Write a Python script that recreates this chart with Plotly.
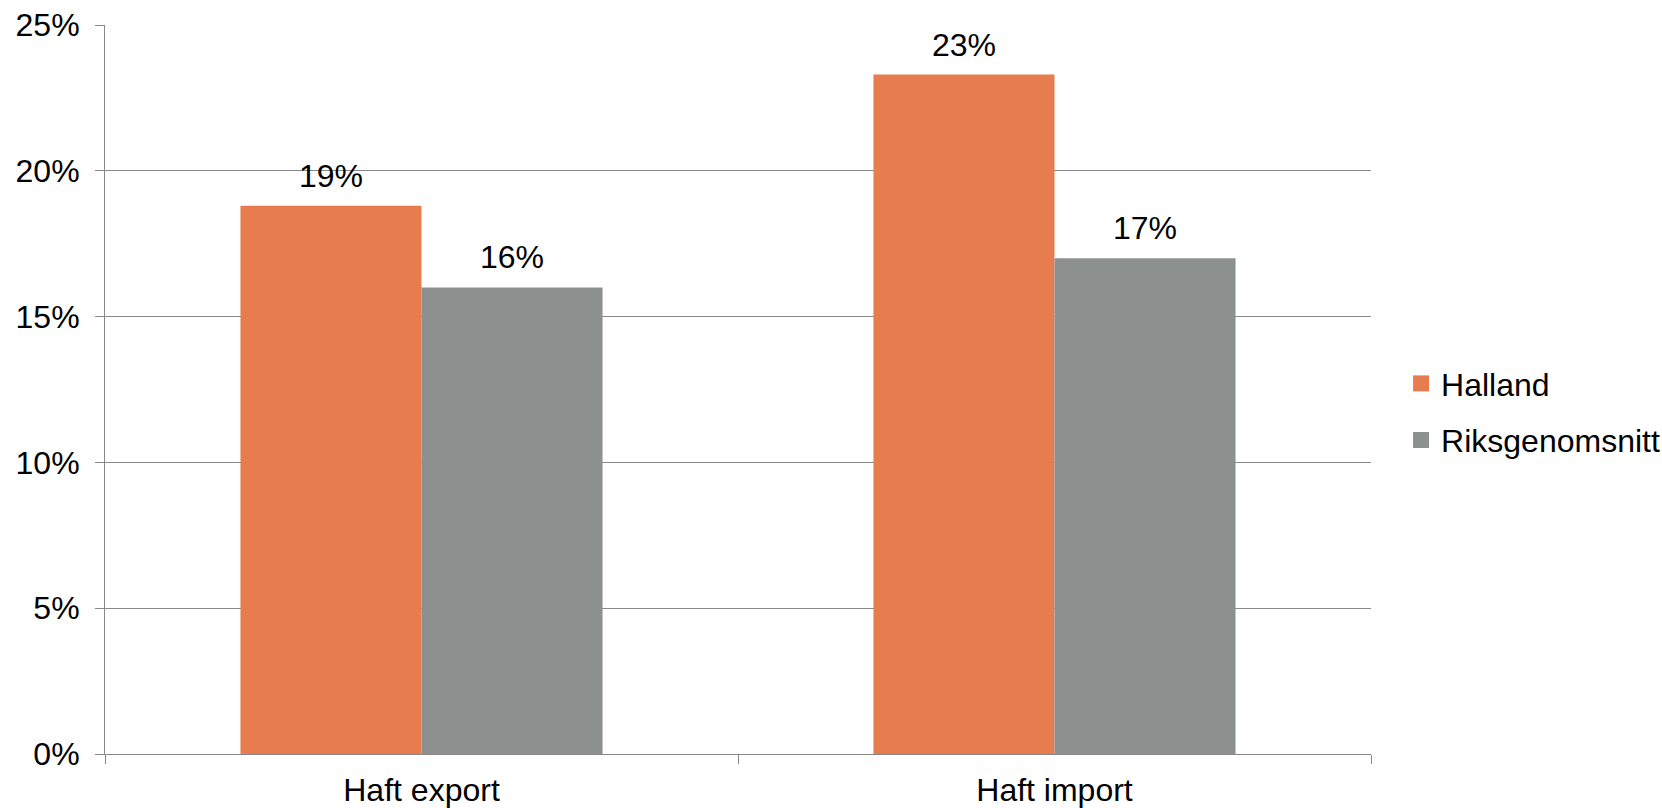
import plotly.graph_objects as go

categories = ["Haft export", "Haft import"]
series_names = ["Halland", "Riksgenomsnitt"]
halland = [0.188, 0.233]
riks = [0.160, 0.170]
series_values = [halland, riks]
colors = ["#E77C4F", "#8C918F"]

W, H = 1662, 808
L, R, T, B = 105, 291, 25, 54
BARGAP = 0.428
FONT = "Liberation Sans, Arial, sans-serif"
FS = 32
GRID = "#888888"

fig = go.Figure()
for name, vals, col in zip(series_names, series_values, colors):
    fig.add_trace(go.Bar(
        x=categories, y=vals, name=name, marker_color=col,
        marker_line_width=0, showlegend=False, legendgroup=name,
    ))
    fig.add_trace(go.Scatter(
        x=[None], y=[None], mode="markers", name=name, legendgroup=name,
        marker=dict(symbol="square", size=16, color=col),
    ))

plot_w = W - L - R
cat_px = plot_w / len(categories)
bar_px = cat_px * (1 - BARGAP) / len(series_names)
annotations = []
for si, vals in enumerate(series_values):
    off = (si - (len(series_names) - 1) / 2) * bar_px
    for c, v in zip(categories, vals):
        annotations.append(dict(
            x=c, y=v, xref="x", yref="y", text=f"{v:.0%}", showarrow=False,
            xanchor="center", yanchor="bottom", xshift=off, yshift=10,
            font=dict(family=FONT, size=FS, color="black"),
        ))

fig.update_layout(
    width=W, height=H,
    margin=dict(l=L, r=R, t=T, b=B, autoexpand=False),
    paper_bgcolor="white", plot_bgcolor="white",
    barmode="group", bargap=BARGAP, bargroupgap=0,
    font=dict(family=FONT, size=FS, color="black"),
    annotations=annotations,
    legend=dict(
        xref="container", yref="container",
        x=0.843, y=0.49, xanchor="left", yanchor="middle",
        font=dict(family=FONT, size=FS, color="black"),
        bgcolor="rgba(0,0,0,0)", tracegroupgap=12,
    ),
    xaxis=dict(
        type="category", tickson="boundaries", ticks="outside", ticklen=9,
        tickcolor=GRID, tickwidth=1, showline=True, linecolor=GRID, linewidth=1,
        showgrid=False, ticklabelstandoff=8, automargin=False,
        tickfont=dict(family=FONT, size=FS, color="black"),
    ),
    yaxis=dict(
        range=[0, 0.25], dtick=0.05, tickformat=".0%", ticks="outside", ticklen=9,
        tickcolor=GRID, tickwidth=1, showline=True, linecolor=GRID, linewidth=1,
        showgrid=True, gridcolor=GRID, gridwidth=1, zeroline=False,
        ticklabelstandoff=9, automargin=False,
        tickfont=dict(family=FONT, size=FS, color="black"),
    ),
)

fig.write_html(
    "out.html",
    config={"displayModeBar": False},
    post_script="document.body.style.margin='0';document.body.style.overflow='hidden';",
)
